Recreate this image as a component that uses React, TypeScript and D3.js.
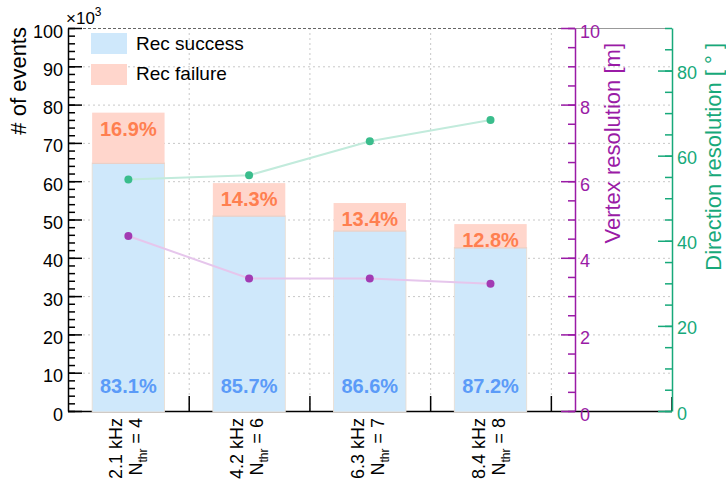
import React, { useEffect, useRef } from 'react';
import * as d3 from 'd3';

const width = 726;
const height = 486;
// frame: left axis at 68, vertex axis at 575, direction axis at 672
const frame = { left: 68, right: 575, outer: 672, top: 28, bottom: 411 };
const font = 'Liberation Sans, Arial, Helvetica, sans-serif';

const purple = '#9a1ba6';
const green = '#17a97a';

// data (events in units of 10^3)
const frequencies = ['2.1 kHz', '4.2 kHz', '6.3 kHz', '8.4 kHz'];
const thresholds = ['4', '6', '7', '8'];
const recSuccess = [64.8, 51.0, 47.1, 42.7];
const recFailure = [13.1, 8.5, 7.2, 6.1];
const successLabels = ['83.1%', '85.7%', '86.6%', '87.2%'];
const failureLabels = ['16.9%', '14.3%', '13.4%', '12.8%'];
const vertexRes = [4.57, 3.46, 3.46, 3.32];
const directionRes = [54.4, 55.4, 63.4, 68.4];

const x = d3.scaleLinear().domain([0, 4.2]).range([frame.left, frame.right]);
const y = d3.scaleLinear().domain([0, 100]).range([frame.bottom, frame.top]);
const yV = d3.scaleLinear().domain([0, 10]).range([frame.bottom, frame.top]);
const yD = d3.scaleLinear().domain([0, 90]).range([frame.bottom, frame.top]);

export default function App() {
  const ref = useRef<SVGSVGElement>(null);

  useEffect(() => {
    const svg = d3.select(ref.current);
    svg.selectAll('*').remove();
    svg.attr('font-family', font);

    // grid
    const grid = svg.append('g')
      .attr('stroke', '#c8c8c8')
      .attr('stroke-dasharray', '2,3')
      .attr('stroke-width', 1);
    grid.selectAll('line.h')
      .data(d3.range(10, 100, 10))
      .enter().append('line')
      .attr('x1', frame.left).attr('x2', frame.outer)
      .attr('y1', d => y(d) + 0.5).attr('y2', d => y(d) + 0.5);
    grid.selectAll('line.v')
      .data([1, 2, 3, 4])
      .enter().append('line')
      .attr('x1', d => x(d) + 0.5).attr('x2', d => x(d) + 0.5)
      .attr('y1', frame.top).attr('y2', frame.bottom);

    // top border
    svg.append('line')
      .attr('x1', frame.left).attr('x2', frame.right)
      .attr('y1', frame.top + 0.5).attr('y2', frame.top + 0.5)
      .attr('stroke', '#666').attr('stroke-dasharray', '3,2');
    svg.append('line')
      .attr('x1', frame.right).attr('x2', frame.outer)
      .attr('y1', frame.top + 0.5).attr('y2', frame.top + 0.5)
      .attr('stroke', '#999');

    // bottom axis line + category ticks
    svg.append('line')
      .attr('x1', frame.left).attr('x2', frame.outer)
      .attr('y1', frame.bottom + 0.5).attr('y2', frame.bottom + 0.5)
      .attr('stroke', '#000').attr('stroke-width', 1.5);
    const xAxis = d3.axisBottom(x)
      .tickValues([1, 2, 3, 4])
      .tickSize(-15)
      .tickSizeOuter(0)
      .tickFormat(() => '');
    const xg = svg.append('g')
      .attr('transform', `translate(0, ${frame.bottom})`)
      .call(xAxis);
    xg.select('path').remove();
    xg.selectAll('line').attr('stroke-width', 1.5);
    svg.append('line')
      .attr('x1', frame.outer).attr('x2', frame.outer)
      .attr('y1', frame.bottom - 14).attr('y2', frame.bottom)
      .attr('stroke', '#000').attr('stroke-width', 1.5);

    // bars
    const barW = 0.6;
    const bars = svg.append('g');
    bars.selectAll('rect.success')
      .data(recSuccess)
      .enter().append('rect')
      .attr('x', (d, i) => x(i + 0.5 - barW / 2))
      .attr('width', x(barW) - x(0))
      .attr('y', d => y(d))
      .attr('height', d => y(0) - y(d) + 1)
      .attr('fill', '#cfe8fb')
      .attr('stroke', '#eadccf')
      .attr('stroke-width', 0.8);
    bars.selectAll('rect.failure')
      .data(recFailure)
      .enter().append('rect')
      .attr('x', (d, i) => x(i + 0.5 - barW / 2))
      .attr('width', x(barW) - x(0))
      .attr('y', (d, i) => y(recSuccess[i] + d))
      .attr('height', (d, i) => y(recSuccess[i]) - y(recSuccess[i] + d))
      .attr('fill', '#ffd6cc');
    bars.selectAll('line.sep')
      .data(recSuccess)
      .enter().append('line')
      .attr('x1', (d, i) => x(i + 0.5 - barW / 2))
      .attr('x2', (d, i) => x(i + 0.5 + barW / 2))
      .attr('y1', d => y(d) + 0.5).attr('y2', d => y(d) + 0.5)
      .attr('stroke', '#f0cabd');

    // percentage labels
    svg.selectAll('text.fail')
      .data(failureLabels)
      .enter().append('text')
      .attr('x', (d, i) => x(i + 0.5))
      .attr('y', (d, i) => y(recSuccess[i] + recFailure[i]) + 23)
      .attr('text-anchor', 'middle')
      .attr('font-size', 20)
      .attr('font-weight', 'bold')
      .attr('fill', '#ff7f50')
      .text(d => d);
    svg.selectAll('text.succ')
      .data(successLabels)
      .enter().append('text')
      .attr('x', (d, i) => x(i + 0.5))
      .attr('y', 393)
      .attr('text-anchor', 'middle')
      .attr('font-size', 20)
      .attr('font-weight', 'bold')
      .attr('fill', '#5b9bf8')
      .text(d => d);

    // resolution lines
    const dirLine = d3.line<number>()
      .x((d, i) => x(i + 0.5))
      .y(d => yD(d));
    const vtxLine = d3.line<number>()
      .x((d, i) => x(i + 0.5))
      .y(d => yV(d));
    svg.append('path')
      .attr('d', dirLine(directionRes))
      .attr('fill', 'none')
      .attr('stroke', '#c2ebdc')
      .attr('stroke-width', 2);
    svg.append('path')
      .attr('d', vtxLine(vertexRes))
      .attr('fill', 'none')
      .attr('stroke', '#e6c6ec')
      .attr('stroke-width', 2);
    svg.selectAll('circle.dir')
      .data(directionRes)
      .enter().append('circle')
      .attr('cx', (d, i) => x(i + 0.5))
      .attr('cy', d => yD(d))
      .attr('r', 4)
      .attr('fill', '#3abd8c');
    svg.selectAll('circle.vtx')
      .data(vertexRes)
      .enter().append('circle')
      .attr('cx', (d, i) => x(i + 0.5))
      .attr('cy', d => yV(d))
      .attr('r', 4)
      .attr('fill', '#a23bb3');

    // left axis
    const leftMinor = d3.axisLeft(y)
      .tickValues(d3.range(0, 101, 2))
      .tickSize(-7)
      .tickSizeOuter(0)
      .tickFormat(() => '');
    const leftMajor = d3.axisLeft(y)
      .tickValues(d3.range(0, 101, 10))
      .tickSize(-14)
      .tickSizeOuter(0)
      .tickPadding(5);
    const lmin = svg.append('g').attr('transform', `translate(${frame.left}, 0)`).call(leftMinor);
    lmin.select('path').attr('stroke-width', 1.5);
    lmin.selectAll('line').attr('stroke-width', 1.5);
    const lmaj = svg.append('g').attr('transform', `translate(${frame.left}, 0)`).call(leftMajor);
    lmaj.select('path').remove();
    lmaj.selectAll('line').attr('stroke-width', 1.5);
    lmaj.selectAll('text')
      .attr('font-size', 18)
      .attr('font-family', font)
      .attr('dy', '0.5em')
      .attr('fill', '#000');

    // vertex axis
    const vMinor = d3.axisRight(yV)
      .tickValues(d3.range(0, 10.01, 0.5))
      .tickSize(-7)
      .tickSizeOuter(0)
      .tickFormat(() => '');
    const vMajor = d3.axisRight(yV)
      .tickValues(d3.range(0, 11, 2))
      .tickSize(-14)
      .tickSizeOuter(0)
      .tickPadding(5);
    const vmin = svg.append('g').attr('transform', `translate(${frame.right}, 0)`).call(vMinor);
    vmin.select('path').attr('stroke', purple).attr('stroke-width', 1.5);
    vmin.selectAll('line').attr('stroke', purple).attr('stroke-width', 1.5);
    const vmaj = svg.append('g').attr('transform', `translate(${frame.right}, 0)`).call(vMajor);
    vmaj.select('path').remove();
    vmaj.selectAll('line').attr('stroke', purple).attr('stroke-width', 1.5);
    vmaj.selectAll('text')
      .attr('font-size', 18)
      .attr('font-family', font)
      .attr('dy', '0.5em')
      .attr('fill', purple);

    // direction axis
    const dMinor = d3.axisRight(yD)
      .tickValues(d3.range(0, 91, 5))
      .tickSize(-7)
      .tickSizeOuter(0)
      .tickFormat(() => '');
    const dMajor = d3.axisRight(yD)
      .tickValues(d3.range(0, 81, 20))
      .tickSize(-14)
      .tickSizeOuter(0)
      .tickPadding(5);
    const dmin = svg.append('g').attr('transform', `translate(${frame.outer}, 0)`).call(dMinor);
    dmin.select('path').attr('stroke', green).attr('stroke-width', 1.5);
    dmin.selectAll('line').attr('stroke', green).attr('stroke-width', 1.5);
    const dmaj = svg.append('g').attr('transform', `translate(${frame.outer}, 0)`).call(dMajor);
    dmaj.select('path').remove();
    dmaj.selectAll('line').attr('stroke', green).attr('stroke-width', 1.5);
    dmaj.selectAll('text')
      .attr('font-size', 18)
      .attr('font-family', font)
      .attr('dy', '0.45em')
      .attr('fill', green);

    // axis titles
    svg.append('text')
      .attr('transform', 'translate(26, 27) rotate(-90)')
      .attr('text-anchor', 'end')
      .attr('font-size', 22)
      .text('# of events');
    svg.append('text')
      .attr('transform', 'translate(620, 43) rotate(-90)')
      .attr('text-anchor', 'end')
      .attr('font-size', 22)
      .attr('fill', purple)
      .text('Vertex resolution [m]');
    svg.append('text')
      .attr('transform', 'translate(721, 43) rotate(-90)')
      .attr('text-anchor', 'end')
      .attr('font-size', 22)
      .attr('fill', green)
      .text('Direction resolution [ \u00b0 ]');

    // x10^3
    const mult = svg.append('text')
      .attr('x', 66)
      .attr('y', 24)
      .attr('font-size', 17);
    mult.append('tspan').text('\u00d710');
    mult.append('tspan').attr('font-size', 12).attr('dy', -8).text('3');

    // category labels
    const catG = svg.append('g');
    frequencies.forEach((f, i) => {
      const cx = x(i + 0.5);
      catG.append('text')
        .attr('transform', `translate(${cx - 6}, 418) rotate(-90)`)
        .attr('text-anchor', 'end')
        .attr('font-size', 18)
        .text(f);
      const t = catG.append('text')
        .attr('transform', `translate(${cx + 14}, 418) rotate(-90)`)
        .attr('text-anchor', 'end')
        .attr('font-size', 18);
      t.append('tspan').text('N');
      t.append('tspan').attr('font-size', 12).attr('dy', 5).text('thr');
      t.append('tspan').attr('dy', -5).text(` = ${thresholds[i]}`);
    });

    // legend
    const legend = svg.append('g');
    const legendItems = [
      { label: 'Rec success', color: '#cfe8fb' },
      { label: 'Rec failure', color: '#ffd6cc' },
    ];
    legendItems.forEach((item, i) => {
      legend.append('rect')
        .attr('x', 91).attr('y', 33 + i * 31)
        .attr('width', 36).attr('height', 21)
        .attr('fill', item.color);
      legend.append('text')
        .attr('x', 136).attr('y', 49.5 + i * 30.5)
        .attr('font-size', 19)
        .text(item.label);
    });
  }, []);

  return (
    <svg
      ref={ref}
      width={width}
      height={height}
      style={{ position: 'absolute', left: 0, top: 0, background: '#fff' }}
    />
  );
}
